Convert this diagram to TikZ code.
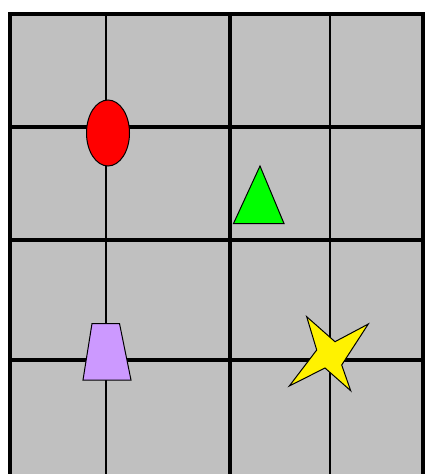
\documentclass[tikz,border=0pt]{standalone}
\usetikzlibrary{calc}
\definecolor{board}{HTML}{C0C0C0}
\definecolor{lilac}{HTML}{CC99FF}
\begin{document}
\begin{tikzpicture}[x=1pt, y=-1pt, every path/.style={line join=miter}, piece/.style={draw=black, line width=1pt}]
    \useasboundingbox (0,0) rectangle (425,474);
    \fill[white] (0,0) rectangle (425,474);

    \coordinate (nw) at (10,14);
    \coordinate (se) at (423,475.5);
    \fill[board] (nw) rectangle (se);

    \foreach \x/\w in {106/1.8,230/3.4,330/1.8} {
        \draw[line width=\w] (\x,14) -- (\x,475.5);
    }
    \foreach \y in {127,240,360} {
        \draw[line width=4] (10,\y) -- (423,\y);
    }
    \draw[line width=4] (nw) rectangle (se);

    \filldraw[piece, fill=red] (108,133) ellipse (21.5 and 33);
    \filldraw[piece, fill=green] (260,166) -- (284,223.5) -- (233.5,223.5) -- cycle;
    \filldraw[piece, fill=lilac] (92,323.5) -- (119.5,323.5) -- (131,380) -- (83,380) -- cycle;
    \filldraw[piece, fill=yellow] (306.7,316.7) -- (335,341.7) -- (368.3,324) -- (341.7,365)
        -- (350.7,390.7) -- (325,368) -- (289.3,386) -- (316.7,350) -- cycle;
\end{tikzpicture}
\end{document}
